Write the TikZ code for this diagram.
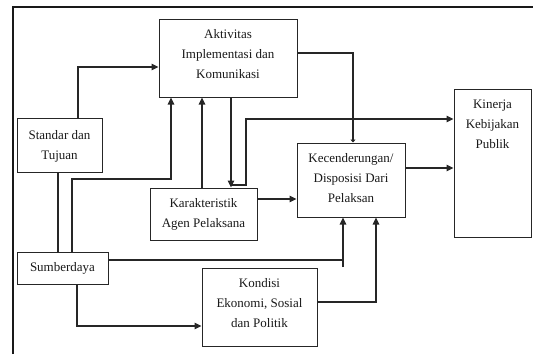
\documentclass[tikz,border=0pt]{standalone}
\usepackage{fontspec}
\setmainfont{Liberation Serif}
\usetikzlibrary{arrows.meta}
\begin{document}
\begin{tikzpicture}[x=1pt,y=-1pt,
  box/.style={draw=black!85, line width=1pt, inner sep=0pt, rectangle},
  txt/.style={align=center, anchor=base, inner sep=0pt, font=\fontsize{13}{20}\selectfont, text=black!90},
  ln/.style={draw=black!85, line width=1.1pt},
  arr/.style={ln, -{Triangle[length=7pt,width=6.5pt]}},
  sarr/.style={ln, -{Triangle[length=3pt,width=5pt]}}]
\useasboundingbox (0,0) rectangle (533,354);
% frame
\draw[line width=2pt, black!90] (13,354) -- (13,7) -- (533,7);
% boxes
\node[box, minimum width=138pt, minimum height=78pt] (akt) at (228,58) {};
\node[box, minimum width=85pt, minimum height=54pt] (std) at (59.5,145) {};
\node[box, minimum width=107pt, minimum height=52pt] (kar) at (203.5,214) {};
\node[box, minimum width=108pt, minimum height=74pt] (kec) at (351,180) {};
\node[box, minimum width=77pt, minimum height=148pt] (kin) at (492.5,163) {};
\node[box, minimum width=91pt, minimum height=32pt] (sum) at (62.5,268) {};
\node[box, minimum width=115pt, minimum height=78pt] (kon) at (259.5,307) {};
% texts (anchor = baseline of last line)
\node[txt] (aktT) at (228,78) {Aktivitas\\Implementasi dan\\Komunikasi};
\node[txt] (stdT) at (59.5,159) {Standar dan\\Tujuan};
\node[txt] (karT) at (203.5,227) {Karakteristik\\Agen Pelaksana};
\node[txt] (kecT) at (351,202) {Kecenderungan/\\Disposisi Dari\\Pelaksan};
\node[txt] (kinT) at (492.5,148) {Kinerja\\Kebijakan\\Publik};
\node[txt] (sumT) at (62.5,271) {Sumberdaya};
\node[txt] (konT) at (259.5,327) {Kondisi\\Ekonomi, Sosial\\dan Politik};
% connectors
\coordinate (b1) at (78,67);
\draw[arr] (std.north -| b1) -- (b1) -- (akt.west |- b1);
\coordinate (b2) at (58,0);
\draw[ln] (std.south -| b2) -- (sum.north -| b2);
\coordinate (b3a) at (72,179); \coordinate (b3b) at (171,179);
\draw[arr] (sum.north -| b3a) -- (b3a) -- (b3b) -- (akt.south -| b3b);
\coordinate (b4) at (202,0);
\draw[arr] (kar.north -| b4) -- (akt.south -| b4);
\coordinate (b5) at (231,0);
\draw[arr] (akt.south -| b5) -- (kar.north -| b5);
\coordinate (b6a) at (231,185); \coordinate (b6b) at (246,185); \coordinate (b6c) at (246,119);
\draw[arr] (b6a) -- (b6b) -- (b6c) -- (kin.west |- b6c);
\coordinate (b7) at (353,53);
\draw[sarr] (akt.east |- b7) -- (b7) -- (kec.north -| b7);
\coordinate (b8) at (0,199);
\draw[arr] (kar.east |- b8) -- (kec.west |- b8);
\coordinate (b9) at (0,168);
\draw[arr] (kec.east |- b9) -- (kin.west |- b9);
\coordinate (b10) at (343,260); \coordinate (b10s) at (343,267);
\draw[ln] (b10s) -- (b10);
\draw[arr] (sum.east |- b10) -- (b10) -- (kec.south -| b10);
\coordinate (b11) at (77,326);
\draw[arr] (sum.south -| b11) -- (b11) -- (kon.west |- b11);
\coordinate (b12) at (376,302);
\draw[arr] (kon.east |- b12) -- (b12) -- (kec.south -| b12);
\end{tikzpicture}
\end{document}
